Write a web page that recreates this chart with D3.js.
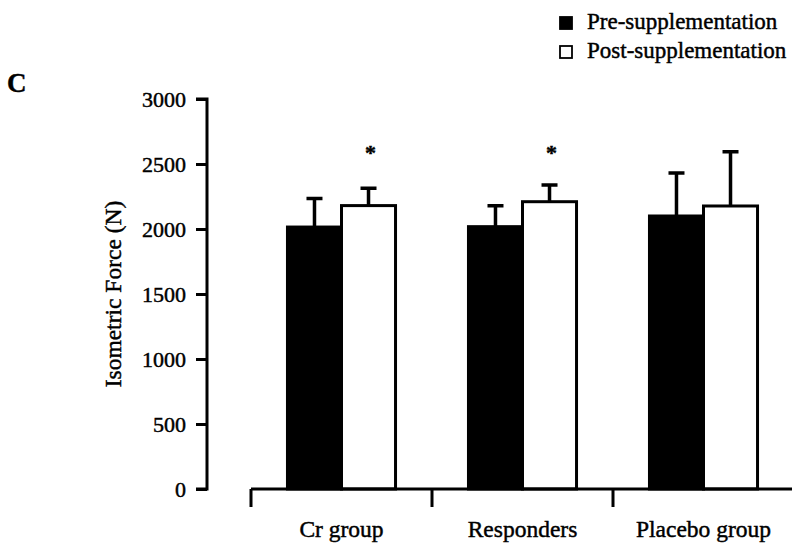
<!DOCTYPE html>
<html><head><meta charset="utf-8">
<script src="https://cdn.jsdelivr.net/npm/d3@7"></script>
<style>body{margin:0;background:#fff}svg{display:block}text{font-family:"Liberation Serif","Times New Roman",serif;fill:#000;stroke:#000;stroke-width:0.45px}</style>
</head><body><svg id="c" width="792" height="549"></svg>
<script>
const categories = ["Cr group", "Responders", "Placebo group"];
const series = ["Pre-supplementation", "Post-supplementation"];
const preValues = [2015, 2018, 2100];
const postValues = [2180, 2210, 2177];
const preErrors = [220, 160, 330];
const postErrors = [133, 128, 418];
const significant = [true, true, false];
const yTicks = [0, 500, 1000, 1500, 2000, 2500, 3000];

const svg = d3.select("#c");
const y = d3.scaleLinear().domain([0, 3000]).range([489, 99]);
const x0 = d3.scaleBand().domain(categories).range([251, 794]).paddingInner(0).paddingOuter(0);
const x1 = d3.scaleBand().domain(series).range([0, x0.bandwidth()]).paddingInner(0).paddingOuter(0.675);
const fills = {"Pre-supplementation": "#000", "Post-supplementation": "#fff"};

const data = categories.map((c, i) => ({c, i, vals: [
  {s: series[0], v: preValues[i], e: preErrors[i]},
  {s: series[1], v: postValues[i], e: postErrors[i]}
]}));

// Y axis
const yAxis = d3.axisLeft(y).tickValues(yTicks).tickSize(11).tickPadding(10).tickFormat(d3.format("d"));
const ga = svg.append("g").attr("transform", "translate(207,0)").call(yAxis);
ga.select(".domain").attr("stroke", "#000").attr("stroke-width", 3).attr("d", `M-11,${y(3000)}H0V${y(0)}H-11`);
ga.selectAll(".tick line").attr("stroke", "#000").attr("stroke-width", 3);
ga.selectAll(".tick text").style("font-size", "22px").style("font-family", "Liberation Serif").attr("dy", "0.35em");

svg.append("text").attr("transform", `translate(121,${(y(0)+y(3000))/2}) rotate(-90)`)
  .attr("text-anchor", "middle").style("font-size", "23.5px").text("Isometric Force (N)");

// bars
const groups = svg.append("g").selectAll("g").data(data).join("g")
  .attr("transform", d => `translate(${x0(d.c)},0)`);
groups.selectAll("rect").data(d => d.vals).join("rect")
  .attr("x", d => x1(d.s)).attr("width", x1.bandwidth())
  .attr("y", d => y(d.v)).attr("height", d => y(0) - y(d.v))
  .attr("fill", d => fills[d.s]).attr("stroke", "#000").attr("stroke-width", 3);
// error bars
groups.selectAll("path.err").data(d => d.vals).join("path").attr("class", "err")
  .attr("d", d => {
    const cx = x1(d.s) + x1.bandwidth() / 2;
    return `M${cx},${y(d.v)}V${y(d.v + d.e)}M${cx - 8},${y(d.v + d.e)}H${cx + 8}`;
  })
  .attr("stroke", "#000").attr("stroke-width", 3.5).attr("fill", "none");
// significance stars
groups.filter(d => significant[d.i]).append("text")
  .attr("x", x1(series[1]) + x1.bandwidth() / 2 + 2).attr("y", y(2530))
  .attr("text-anchor", "middle").style("font-size", "22px").style("font-weight", "bold").text("*");

// X axis
const bounds = categories.map(c => x0(c)).concat([x0.range()[1]]);
svg.append("path").attr("d", `M${bounds[0]},${y(0)}H${bounds[bounds.length-1]}` + bounds.map(b => `M${b},${y(0)}V${y(0)+18}`).join(""))
  .attr("stroke", "#000").attr("stroke-width", 3).attr("fill", "none");
svg.append("g").selectAll("text").data(categories).join("text")
  .attr("x", c => x0(c) + x0.bandwidth() / 2).attr("y", 537)
  .attr("text-anchor", "middle").style("font-size", "23.5px").text(c => c);

// panel letter
svg.append("text").attr("x", 7).attr("y", 92).style("font-size", "27px").style("font-weight", "bold").text("C");

// legend
const lg = svg.append("g").selectAll("g").data(series).join("g")
  .attr("transform", (d, i) => `translate(560,${17 + i * 29})`);
lg.append("rect").attr("width", 12).attr("height", 12).attr("fill", d => fills[d]).attr("stroke", "#000").attr("stroke-width", 1.8);
lg.append("text").attr("x", 27).attr("y", 12).style("font-size", "23px").text(d => d);
</script></body></html>
